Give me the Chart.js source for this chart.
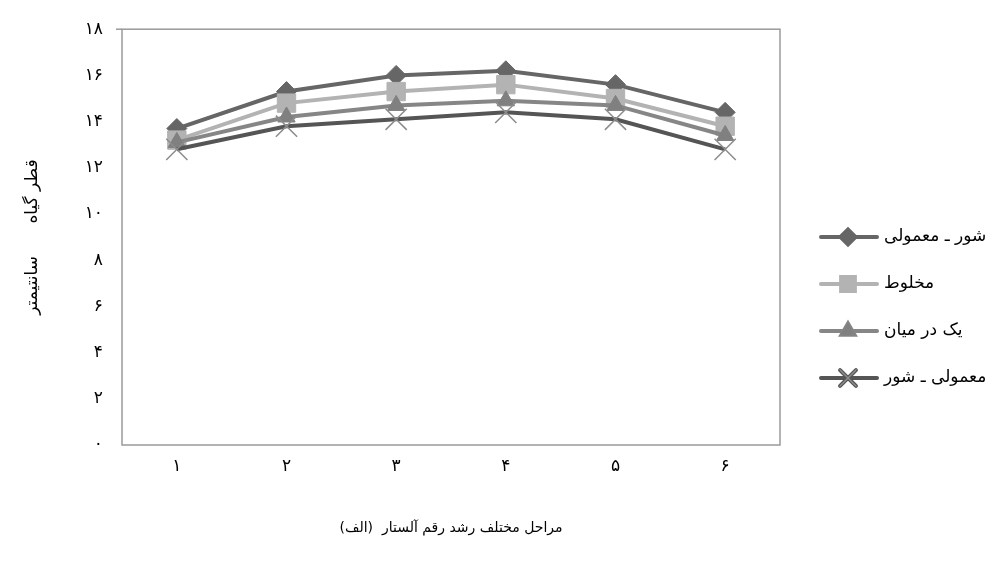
<!DOCTYPE html>
<html lang="fa">
<head>
<meta charset="utf-8">
<title>قطر گیاه</title>
<script src="https://cdn.jsdelivr.net/npm/chart.js"></script>
<style>
  body { margin: 0; background: #fff; }
  canvas { display: block; }
</style>
</head>
<body>
<canvas id="myChart" width="1000" height="573"></canvas>
<script>
// growth stages (x axis) and y tick labels in Persian digits
const stages = ["۱", "۲", "۳", "۴", "۵", "۶"];
const yTickLabels = ["۰", "۲", "۴", "۶", "۸", "۱۰", "۱۲", "۱۴", "۱۶", "۱۸"];

// plant diameter (cm) per irrigation treatment
const shoorMamooli = [13.7, 15.3, 16.0, 16.2, 15.6, 14.4];
const makhloot = [13.2, 14.8, 15.3, 15.6, 15.0, 13.8];
const yekDarMiyan = [13.1, 14.2, 14.7, 14.9, 14.7, 13.4];
const mamooliShoor = [12.8, 13.8, 14.1, 14.4, 14.1, 12.8];

const seriesNames = ["شور ـ معمولی", "مخلوط", "یک در میان", "معمولی ـ شور"];

const FONT = "'DejaVu Sans', sans-serif";

// box around the plot area
const framePlugin = {
    id: "frame",
    beforeDatasetsDraw(chart) {
        const { ctx, chartArea: a } = chart;
        ctx.save();
        ctx.strokeStyle = "#9a9a9a";
        ctx.lineWidth = 1.5;
        ctx.strokeRect(a.left, a.top, a.right - a.left, a.bottom - a.top);
        ctx.beginPath();
        ctx.moveTo(a.left - 6, a.top);
        ctx.lineTo(a.left, a.top);
        ctx.stroke();
        ctx.restore();
    },
};

// legend on the right: line with marker, label after it
const lineLegend = {
    id: "lineLegend",
    afterDraw(chart) {
        const { ctx } = chart;
        const x0 = 821, x1 = 877, xm = 848, tx = 884;
        const ys = [237, 284, 331, 378];
        chart.data.datasets.forEach((ds, i) => {
            const y = ys[i];
            ctx.save();
            ctx.strokeStyle = ds.borderColor;
            ctx.lineWidth = 4;
            ctx.lineCap = "round";
            ctx.beginPath();
            ctx.moveTo(x0, y);
            ctx.lineTo(x1, y);
            ctx.stroke();
            Chart.helpers.drawPoint(ctx, {
                pointStyle: ds.pointStyle,
                radius: ds.pointRadius * 0.75,
                rotation: 0,
                borderWidth: ds.pointBorderWidth,
            }, xm, y);
            ctx.fillStyle = ds.pointBackgroundColor;
            ctx.strokeStyle = ds.pointBorderColor;
            ctx.lineWidth = ds.pointBorderWidth;
            ctx.fill();
            ctx.stroke();
            ctx.restore();

            ctx.save();
            ctx.fillStyle = "#000";
            ctx.font = "17px " + FONT;
            ctx.textAlign = "left";
            ctx.textBaseline = "middle";
            ctx.fillText(ds.label, tx, y);
            ctx.restore();
        });
    },
};

function lineSet(label, data, line, point, style, radius, order, pointLine) {
    return {
        label: label,
        data: data,
        borderColor: line,
        borderWidth: 4,
        tension: 0,
        pointStyle: style,
        pointRadius: radius,
        pointHoverRadius: radius,
        pointBackgroundColor: point,
        pointBorderColor: point,
        pointBorderWidth: pointLine,
        order: order,
    };
}

const ctx = document.getElementById("myChart").getContext("2d");

const myChart = new Chart(ctx, {
    type: "line",
    data: {
        labels: stages,
        datasets: [
            lineSet(seriesNames[0], shoorMamooli, "#666666", "#666666", "rectRot", 10, 4, 1),
            lineSet(seriesNames[1], makhloot, "#b3b3b3", "#b3b3b3", "rect", 13, 3, 1),
            lineSet(seriesNames[2], yekDarMiyan, "#868686", "#808080", "triangle", 10, 2, 1),
            lineSet(seriesNames[3], mamooliShoor, "#555555", "#8c8c8c", "crossRot", 15, 1, 1.5),
        ],
    },
    options: {
        responsive: false,
        animation: false,
        layout: {
            padding: { top: 25, right: 220, left: 0, bottom: 0 },
        },
        plugins: {
            legend: { display: false },
            tooltip: { enabled: false },
        },
        scales: {
            x: {
                offset: true,
                grid: { display: false, drawTicks: false },
                border: { display: false },
                ticks: {
                    color: "#000",
                    padding: 11,
                    font: { family: FONT, size: 17 },
                },
                title: {
                    display: true,
                    text: "مراحل مختلف رشد رقم آلستار  (الف)",
                    color: "#000",
                    font: { family: FONT, size: 14 },
                    padding: { top: 0, bottom: 36 },
                },
                afterFit(scale) {
                    scale.height = 128;
                },
            },
            y: {
                min: 0,
                max: 18,
                grid: { display: false, drawTicks: false },
                border: { display: false },
                ticks: {
                    stepSize: 2,
                    color: "#000",
                    padding: 19,
                    font: { family: FONT, size: 17 },
                    callback: (v, i) => yTickLabels[i],
                },
                title: {
                    display: true,
                    text: "قطر گیاه      سانتیمتر",
                    color: "#000",
                    font: { family: FONT, size: 17 },
                    padding: { top: 22, bottom: 0 },
                },
                afterFit(scale) {
                    scale.width = 122;
                },
            },
        },
    },
    plugins: [framePlugin, lineLegend],
});
</script>
</body>
</html>
